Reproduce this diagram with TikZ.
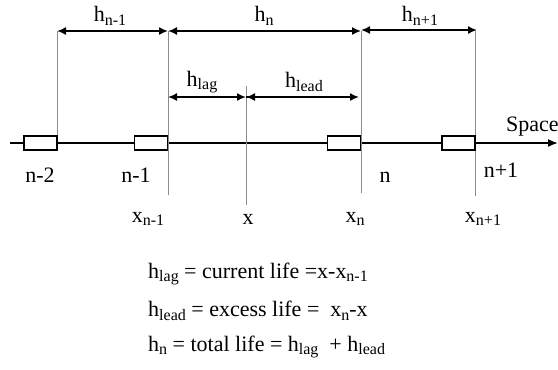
\documentclass[tikz,border=0pt]{standalone}
\usepackage{fontspec}
\setmainfont{Liberation Serif}
\usetikzlibrary{arrows.meta}
\newcommand{\sbs}[1]{\raisebox{-0.35ex}{\fontsize{16}{18}\selectfont #1}}
\tikzset{
  tick/.style={draw=black!45, line width=0.9pt},
  dim/.style={line width=1.6pt, {Latex[length=9pt,width=8pt]}-{Latex[length=9pt,width=8pt]}},
  dimr/.style={line width=1.6pt, -{Latex[length=9pt,width=8pt]}},
  cell/.style={draw, line width=1.3pt, minimum width=33pt, minimum height=14pt, inner sep=0pt, fill=white},
  lab/.style={font=\fontsize{22}{24}\selectfont, inner sep=1pt},
  eq/.style={font=\fontsize{22}{24}\selectfont, anchor=west, inner sep=0pt}
}
\begin{document}
\begin{tikzpicture}[x=1pt,y=-1pt]
\useasboundingbox (0,0) rectangle (558,370);
% axis
\coordinate (a0) at (10,143);
\coordinate (a1) at (558,143);
\draw[line width=1.6pt, -{Latex[length=10pt,width=8pt]}] (a0) -- (a1);
% tick tops / bottoms
\coordinate (t1) at (57,31);   \coordinate (b1) at (57,136);
\coordinate (t2) at (168,31);  \coordinate (b2) at (168,195);
\coordinate (t3) at (246,86);  \coordinate (b3) at (246,205);
\coordinate (t4) at (361,31);  \coordinate (b4) at (361,193);
\coordinate (t5) at (475,31);  \coordinate (b5) at (475,196);
\draw[tick] (t1) -- (b1);
\draw[tick] (t2) -- (b2);
\draw[tick] (t3) -- (b3);
\draw[tick] (t4) -- (b4);
\draw[tick] (t5) -- (b5);
% cells
\node[cell] (c1) at (40.5,143) {};
\node[cell] (c2) at (151,143) {};
\node[cell] (c3) at (344,143) {};
\node[cell] (c4) at (458.5,143) {};
% dimension arrows
\coordinate (l2) at (168,97); \coordinate (l3) at (246,97); \coordinate (l4) at (359,97);
\draw[dim] (t1) -- (t2);
\draw[dim] (t2) -- (t4);
\draw[dim] ([yshift=1pt]t4) -- ([xshift=2pt,yshift=1pt]t5);
\draw[dim] (l2) -- (l3);
\draw[dimr] (l3) -- (l4);
\draw[line width=1.6pt, -{Latex[length=9pt,width=8pt]}] ([xshift=9pt]l3) -- (l3);
% labels
\node[lab] (hn1) at (110,16) {h\sbs{n-1}};
\node[lab] (hn) at (264,16) {h\sbs{n}};
\node[lab] (hn2) at (420,16) {h\sbs{n+1}};
\node[lab] (hlag) at (202,82) {h\sbs{lag}};
\node[lab] (hlead) at (304,82) {h\sbs{lead}};
\node[lab, anchor=west] (sp) at (505,127) {Space};
\node[lab] (n2) at (40,175) {n-2};
\node[lab] (n1) at (136,175) {n-1};
\node[lab] (n) at (385,177) {n};
\node[lab] (np1) at (501,170) {n+1};
\node[lab] (x1) at (148,219) {x\sbs{n-1}};
\node[lab] (x) at (248,219) {x};
\node[lab] (x2) at (355,219) {x\sbs{n}};
\node[lab] (x3) at (483,219) {x\sbs{n+1}};
% equations
\node[eq] (e1) at (148,274) {h\sbs{lag} = current life =x-x\sbs{n-1}};
\node[eq] (e2) at (148,311) {h\sbs{lead} = excess life =\ \ x\sbs{n}-x};
\node[eq] (e3) at (148,347) {h\sbs{n} = total life = h\sbs{lag} \ + h\sbs{lead}};
\end{tikzpicture}
\end{document}
